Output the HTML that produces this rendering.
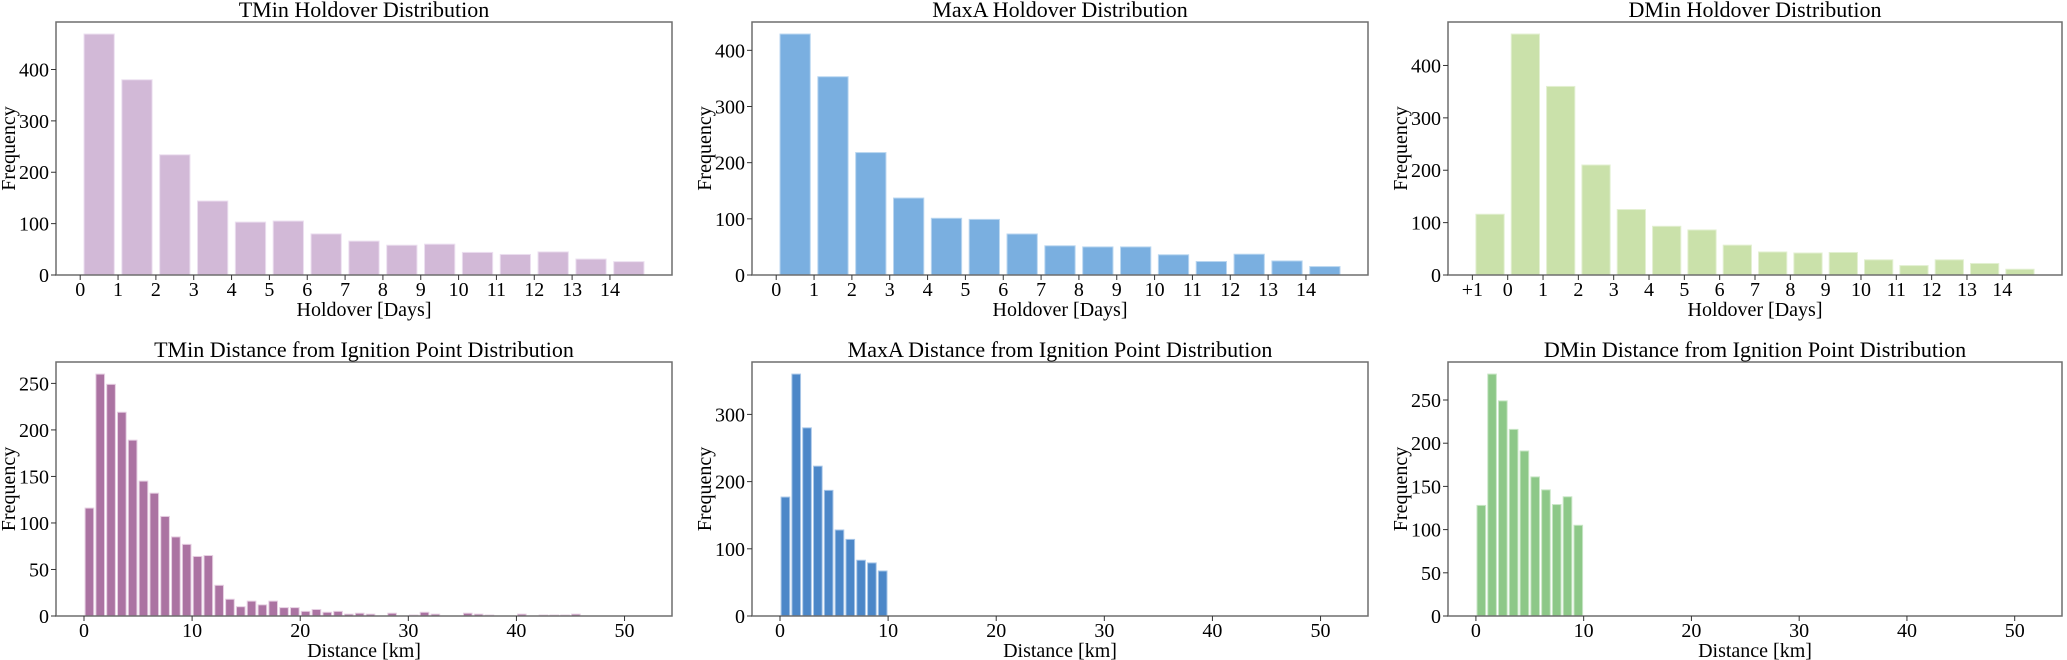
<!DOCTYPE html>
<html><head><meta charset="utf-8">
<style>
html,body{margin:0;padding:0;background:#fff;}
svg{display:block;font-family:"Liberation Serif","DejaVu Serif",serif;}
</style></head>
<body>
<svg id="fig" width="2067" height="660" viewBox="0 0 2067 660" xmlns="http://www.w3.org/2000/svg"></svg>
<script>
// ---- data ----
const holdoverCats = [0,1,2,3,4,5,6,7,8,9,10,11,12,13,14];
const holdoverTickLabels = ["0","1","2","3","4","5","6","7","8","9","10","11","12","13","14"];
const dminHoldoverCats = [-1,0,1,2,3,4,5,6,7,8,9,10,11,12,13,14];
const dminHoldoverTickLabels = ["+1","0","1","2","3","4","5","6","7","8","9","10","11","12","13","14"];
const tminHoldover = [469,380,234,144,103,105,80,66,58,60,44,40,45,31,26];
const maxaHoldover = [429,353,218,137,101,99,73,52,50,50,36,24,37,25,15];
const dminHoldover = [116,460,360,210,125,93,86,57,44,42,43,29,18,29,22,11];
const tminDistance = [116,260,249,219,189,145,132,107,85,77,64,65,33,18,10,16,12,16,9,9,5,7,4,5,2,3,2,0,3,0,1,4,2,0,0,3,2,1,0,0,2,0,1,1,1,2,0,0,0,0,0,0];
const maxaDistance = [177,360,280,223,187,128,114,83,79,67];
const dminDistance = [128,280,249,216,191,161,146,129,138,105];
const distanceTicks = [0,10,20,30,40,50];
const distanceMax = 51.8;
const yTicksHoldover = [0,100,200,300,400];
const yTicksTminDist = [0,50,100,150,200,250];
const yTicksMaxaDist = [0,100,200,300];
const yTicksDminDist = [0,50,100,150,200,250];

const NS="http://www.w3.org/2000/svg";
const svg=document.getElementById('fig');
function mk(tag,attrs,parent){const e=document.createElementNS(NS,tag);for(const k in attrs)e.setAttribute(k,attrs[k]);(parent||svg).appendChild(e);return e;}

function panel(opt){
  const L=opt.left,R=opt.left+opt.width,T=opt.top,B=opt.bottom;
  const g=mk('g',{});
  
  
  const xr=opt.xmax-opt.xmin, x0=opt.xmin-0.05*xr, x1=opt.xmax+0.05*xr;
  const ymax=Math.max(...opt.values)*1.05;
  const sx=v=>L+(v-x0)/(x1-x0)*(R-L);
  const sy=v=>B-v/ymax*(B-T);
  opt.values.forEach((v,i)=>{
    const c=opt.cats[i];
    const r=mk('rect',{x:sx(c+0.1),y:sy(v),width:sx(c+0.9)-sx(c+0.1),height:B-sy(v),fill:opt.color,stroke:opt.edge,'stroke-width':1},g);
    
    
  });
  const fr=mk('rect',{x:L,y:T,width:R-L,height:B-T,fill:'none',stroke:'#6e6e6e','stroke-width':1.5},g);
  
  
  opt.xticks.forEach((t,i)=>{
    const x=sx(t);
    mk('line',{x1:x,x2:x,y1:B,y2:B+5,stroke:'#333','stroke-width':1},g);
    const tx=mk('text',{x:x,y:B+21,'font-size':20,'text-anchor':'middle',fill:'#000'},g);
    tx.textContent=opt.xlabels[i];
    
    
  });
  opt.yticks.forEach(t=>{
    const y=sy(t);
    mk('line',{x1:L-5,x2:L,y1:y,y2:y,stroke:'#333','stroke-width':1},g);
    const tx=mk('text',{x:L-7,y:y+7,'font-size':20,'text-anchor':'end',fill:'#000'},g);
    tx.textContent=String(t);
    
    
  });
  const ti=mk('text',{x:(L+R)/2,y:T-5,'font-size':22,'text-anchor':'middle',fill:'#000'},g);
  ti.textContent=opt.title;
  
  
  const xl=mk('text',{x:(L+R)/2,y:B+41,'font-size':20,'text-anchor':'middle',fill:'#000'},g);
  xl.textContent=opt.xtitle;
  
  
  const yc=(T+B)/2, yx=L-(opt.ylabOff||41);
  const yl=mk('text',{x:yx,y:yc,'font-size':20,'text-anchor':'middle',fill:'#000',transform:`rotate(-90 ${yx} ${yc})`},g);
  yl.textContent='Frequency';
  
  
}

const lefts=[56,752,1448], W=616;
const idx=a=>a.map((_,i)=>i);
panel({name:'tmin-holdover-chart',left:lefts[0],width:W,top:22,bottom:275,cats:holdoverCats,values:tminHoldover,xmin:0.1,xmax:14.9,xticks:holdoverCats,xlabels:holdoverTickLabels,yticks:yTicksHoldover,color:'#d2b9d7',edge:'#ecdff0',title:'TMin Holdover Distribution',xtitle:'Holdover [Days]'});
panel({name:'maxa-holdover-chart',left:lefts[1],width:W,top:22,bottom:275,cats:holdoverCats,values:maxaHoldover,xmin:0.1,xmax:14.9,xticks:holdoverCats,xlabels:holdoverTickLabels,yticks:yTicksHoldover,color:'#7aafe0',edge:'#b9d6f0',title:'MaxA Holdover Distribution',xtitle:'Holdover [Days]'});
panel({name:'dmin-holdover-chart',left:lefts[2],width:W-2,top:22,bottom:275,cats:dminHoldoverCats,values:dminHoldover,xmin:-0.9,xmax:14.9,xticks:dminHoldoverCats,xlabels:dminHoldoverTickLabels,yticks:yTicksHoldover,color:'#cae1aa',edge:'#e3f0d2',title:'DMin Holdover Distribution',xtitle:'Holdover [Days]'});
panel({name:'tmin-distance-chart',left:lefts[0],width:W,top:362,bottom:616,cats:idx(tminDistance),values:tminDistance,xmin:0,xmax:distanceMax,xticks:distanceTicks,xlabels:distanceTicks.map(String),yticks:yTicksTminDist,color:'#ab73a2',edge:'#e6cfe2',title:'TMin Distance from Ignition Point Distribution',xtitle:'Distance [km]'});
panel({name:'maxa-distance-chart',left:lefts[1],width:W,top:362,bottom:616,cats:idx(maxaDistance),values:maxaDistance,xmin:0,xmax:distanceMax,xticks:distanceTicks,xlabels:distanceTicks.map(String),yticks:yTicksMaxaDist,color:'#4c87c8',edge:'#a9c7e8',title:'MaxA Distance from Ignition Point Distribution',xtitle:'Distance [km]'});
panel({name:'dmin-distance-chart',left:lefts[2],width:W-2,top:362,bottom:616,cats:idx(dminDistance),values:dminDistance,xmin:0,xmax:distanceMax,xticks:distanceTicks,xlabels:distanceTicks.map(String),yticks:yTicksDminDist,color:'#8dc888',edge:'#c8e6c5',title:'DMin Distance from Ignition Point Distribution',xtitle:'Distance [km]'});
</script>
</body></html>
